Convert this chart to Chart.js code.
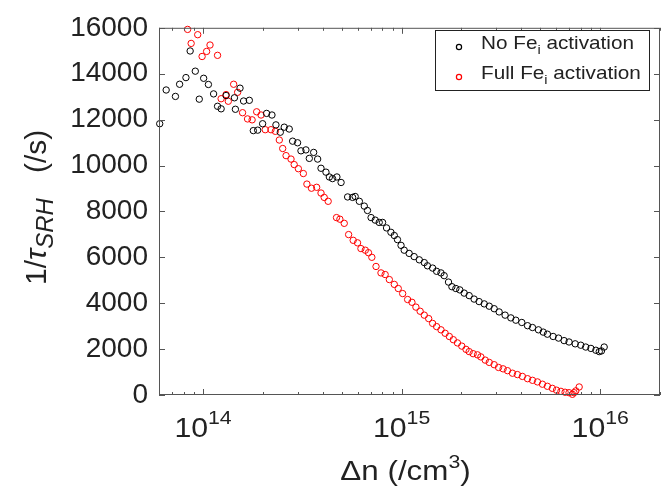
<!DOCTYPE html>
<html>
<head>
<meta charset="utf-8">
<script src="https://cdn.jsdelivr.net/npm/chart.js@4.4.1/dist/chart.umd.min.js"></script>
<style>
  html, body { margin: 0; background: #fff; }
  #wrap { width: 670px; height: 488px; }
</style>
</head>
<body>
<div id="wrap"><canvas id="myChart"></canvas></div>
<script>
// --- data ---
const noFeX = [6.05e13, 6.52e13, 7.26e13, 7.62e13, 8.20e13, 8.61e13, 9.14e13, 9.57e13, 1.007e14, 1.064e14,
  1.130e14, 1.183e14, 1.233e14, 1.306e14, 1.439e14, 1.455e14, 1.535e14, 1.600e14, 1.710e14, 1.791e14,
  1.884e14, 1.995e14, 2.089e14, 2.223e14, 2.328e14, 2.449e14, 2.564e14, 2.716e14, 2.825e14, 2.992e14,
  3.112e14, 3.296e14, 3.428e14, 3.606e14, 3.776e14, 3.926e14, 4.159e14, 4.325e14, 4.487e14, 4.721e14,
  4.955e14, 5.346e14, 5.662e14, 5.834e14, 6.124e14, 6.486e14, 6.730e14, 7.015e14, 7.362e14, 7.709e14,
  8.017e14, 8.395e14, 8.831e14, 9.183e14, 9.528e14, 9.93e14, 1.030e15, 1.091e15, 1.156e15, 1.227e15,
  1.300e15, 1.349e15, 1.432e15, 1.500e15, 1.578e15, 1.637e15, 1.722e15, 1.791e15, 1.875e15, 1.963e15,
  2.065e15, 2.188e15, 2.317e15, 2.455e15, 2.606e15, 2.761e15, 2.924e15, 3.097e15, 3.319e15, 3.548e15,
  3.758e15, 4.027e15, 4.305e15, 4.560e15, 4.887e15, 5.164e15, 5.420e15, 5.794e15, 6.166e15, 6.577e15,
  6.966e15, 7.482e15, 7.980e15, 8.453e15, 8.974e15, 9.506e15, 9.886e15, 1.014e16, 1.047e16];
const noFeY = [11820, 13290, 13010, 13540, 13830, 14990, 14110, 12890, 13800, 13530,
  13120, 12580, 12470, 13050, 12950, 12450, 13370, 12810, 12840, 11520,
  11540, 11820, 12270, 12200, 11770, 11450, 11670, 11590, 11060, 10990,
  10640, 10680, 10310, 10570, 10280, 9880, 9710, 9500, 9430, 9500,
  9260, 8630, 8610, 8650, 8440, 8230, 8040, 7730, 7620, 7520,
  7520, 7280, 7090, 6950, 6770, 6520, 6310, 6170, 6030, 5890,
  5770, 5630, 5530, 5390, 5320, 5200, 4920, 4720, 4640, 4580,
  4440, 4330, 4180, 4070, 3970, 3870, 3760, 3620, 3480, 3360,
  3260, 3160, 3020, 2940, 2840, 2740, 2650, 2550, 2480, 2370,
  2310, 2230, 2170, 2090, 2030, 1950, 1890, 1920, 2090];

const fullFeX = [8.36e13, 8.71e13, 9.40e13, 9.89e13, 1.042e14, 1.084e14, 1.183e14, 1.233e14, 1.306e14, 1.340e14,
  1.426e14, 1.493e14, 1.581e14, 1.675e14, 1.766e14, 1.862e14, 1.959e14, 2.056e14, 2.198e14, 2.312e14,
  2.421e14, 2.518e14, 2.618e14, 2.773e14, 2.877e14, 3.020e14, 3.199e14, 3.334e14, 3.516e14, 3.733e14,
  3.926e14, 4.074e14, 4.266e14, 4.699e14, 4.887e14, 5.140e14, 5.408e14, 5.702e14, 5.998e14, 6.237e14,
  6.561e14, 6.808e14, 7.079e14, 7.430e14, 7.870e14, 8.260e14, 8.670e14, 9.183e14, 9.616e14, 1.012e15,
  1.072e15, 1.127e15, 1.180e15, 1.239e15, 1.300e15, 1.368e15, 1.432e15, 1.500e15, 1.578e15, 1.656e15,
  1.738e15, 1.820e15, 1.910e15, 2.009e15, 2.109e15, 2.188e15, 2.291e15, 2.410e15, 2.506e15, 2.636e15,
  2.761e15, 2.924e15, 3.076e15, 3.243e15, 3.412e15, 3.614e15, 3.828e15, 4.055e15, 4.305e15, 4.560e15,
  4.831e15, 5.117e15, 5.420e15, 5.741e15, 6.026e15, 6.339e15, 6.653e15, 6.966e15, 7.244e15, 7.379e15,
  7.534e15, 7.834e15];
const fullFeY = [15930, 15320, 15700, 14750, 14970, 15250, 14800, 12910, 13090, 12800,
  13540, 13190, 12300, 12030, 11990, 12340, 12200, 11560, 11560, 11490,
  11110, 10740, 10430, 10280, 10040, 9860, 9650, 9190, 9010, 9050,
  8800, 8610, 8440, 7730, 7660, 7480, 6990, 6740, 6630, 6380,
  6310, 6200, 6000, 5600, 5320, 5250, 5030, 4820, 4640, 4420,
  4160, 4040, 3830, 3650, 3480, 3330, 3120, 2980, 2840, 2690,
  2550, 2410, 2270, 2130, 1990, 1890, 1800, 1750, 1660, 1520,
  1420, 1320, 1200, 1140, 1060, 950, 890, 810, 710, 640,
  570, 470, 380, 290, 210, 160, 120, 100, 30, 100,
  180, 350];

const seriesNames = ['No Fe', 'Full Fe'];   // each followed by subscript i + " activation"
const seriesColors = ['#000000', '#ff0000'];
const yTicks = [0, 2000, 4000, 6000, 8000, 10000, 12000, 14000, 16000];
const xTickExps = [14, 15, 16];

const FONT = '"Liberation Sans", Arial, Helvetica, sans-serif';
const SX = 1.12;   // the original figure's text is a bit wide
const INK = '#222';

// draw a row of text pieces (for super/subscripts), centred on cx
function drawParts(ctx, parts, cx, base, sx) {
  let w = 0;
  parts.forEach(p => { ctx.font = p.f; p.w = ctx.measureText(p.t).width * sx; w += p.w; });
  let x = cx - w / 2;
  parts.forEach(p => {
    ctx.font = p.f;
    ctx.save();
    ctx.translate(x, base + (p.dy || 0));
    ctx.scale(sx, 1);
    ctx.fillText(p.t, 0, 0);
    ctx.restore();
    x += p.w;
  });
}

const boxPlugin = {
  id: 'matlabBox',
  afterDraw(chart) {
    const { ctx, chartArea: a, scales: { x, y } } = chart;
    ctx.save();
    ctx.strokeStyle = '#555';
    ctx.lineWidth = 1;
    ctx.strokeRect(a.left + 0.5, a.top + 0.5, a.right - a.left - 1, a.bottom - a.top - 1);

    const seg = (x1, y1, x2, y2) => { ctx.beginPath(); ctx.moveTo(x1, y1); ctx.lineTo(x2, y2); ctx.stroke(); };
    // log ticks, inward, top and bottom
    for (let e = 13; e <= 16; e++) {
      for (let m = 1; m <= 9; m++) {
        const v = m * Math.pow(10, e);
        if (v < x.min || v > x.max) continue;
        const px = Math.round(x.getPixelForValue(v)) + 0.5;
        const len = m === 1 ? 6 : 3;
        seg(px, a.bottom, px, a.bottom - len);
        seg(px, a.top, px, a.top + len);
      }
    }
    // y ticks, inward, left and right
    yTicks.forEach(v => {
      const py = Math.round(y.getPixelForValue(v)) + 0.5;
      seg(a.left, py, a.left + 6, py);
      seg(a.right, py, a.right - 6, py);
    });

    ctx.fillStyle = INK;
    ctx.textAlign = 'left';
    ctx.textBaseline = 'alphabetic';
    // x tick labels 10^n
    xTickExps.forEach(e => {
      const px = x.getPixelForValue(Math.pow(10, e));
      drawParts(ctx, [
        { t: '10', f: '27px ' + FONT },
        { t: String(e), f: '19px ' + FONT, dy: -13 }
      ], px, 437, SX);
    });
    // x title
    drawParts(ctx, [
      { t: '\u0394n (/cm', f: '28px ' + FONT },
      { t: '3', f: '19px ' + FONT, dy: -12 },
      { t: ')', f: '28px ' + FONT }
    ], (a.left + a.right) / 2 - 4, 480, SX);
    // y title, rotated
    ctx.save();
    ctx.translate(0, (a.top + a.bottom) / 2 - 4);
    ctx.rotate(-Math.PI / 2);
    drawParts(ctx, [
      { t: '1/', f: '30px ' + FONT },
      { t: '\u03c4', f: 'italic 30px ' + FONT },
      { t: 'SRH', f: 'italic 24px ' + FONT, dy: 7 },
      { t: '   (/s)', f: '30px ' + FONT }
    ], 0, 46, 1);
    ctx.restore();

    // legend
    const lx = 435.5, ly = 30.5, lw = 214, lh = 60;
    ctx.fillStyle = '#fff';
    ctx.fillRect(lx, ly, lw, lh);
    ctx.strokeStyle = '#222';
    ctx.strokeRect(lx, ly, lw, lh);
    seriesNames.forEach((name, i) => {
      const cy = 47 + i * 30;
      ctx.strokeStyle = seriesColors[i];
      ctx.lineWidth = 1.2;
      ctx.beginPath();
      ctx.arc(459, cy, 2.6, 0, Math.PI * 2);
      ctx.stroke();
      ctx.fillStyle = INK;
      const f = '18.5px ' + FONT;
      let tx = 481;
      const put = (t, font, dy) => {
        ctx.font = font;
        ctx.save(); ctx.translate(tx, cy + 1.5 + dy); ctx.scale(SX, 1); ctx.fillText(t, 0, 0); ctx.restore();
        tx += ctx.measureText(t).width * SX;
      };
      put(name, f, 0);
      put('i', '13px ' + FONT, 5);
      put(' activation', f, 0);
    });
    ctx.restore();
  }
};

const ctx = document.getElementById('myChart').getContext('2d');
new Chart(ctx, {
  type: 'scatter',
  data: {
    datasets: [
      { label: 'No Fe_i activation', data: noFeX.map((v, i) => ({ x: v, y: noFeY[i] })), borderColor: seriesColors[0] },
      { label: 'Full Fe_i activation', data: fullFeX.map((v, i) => ({ x: v, y: fullFeY[i] })), borderColor: seriesColors[1] }
    ].map(d => Object.assign(d, {
      backgroundColor: 'rgba(0,0,0,0)', pointRadius: 3.2, pointBorderWidth: 1, pointHoverRadius: 3.2, clip: false
    }))
  },
  options: {
    responsive: true,
    maintainAspectRatio: false,
    animation: false,
    events: [],
    layout: { padding: { left: 0, right: 10, top: 19, bottom: 0 } },
    plugins: { legend: { display: false }, tooltip: { enabled: false } },
    scales: {
      x: {
        type: 'logarithmic', min: 6e13, max: 2e16,
        grid: { display: false, drawTicks: false }, border: { display: false },
        ticks: { display: false },
        afterFit: s => { s.height = 93; }
      },
      y: {
        min: 0, max: 16000,
        afterBuildTicks: s => { s.ticks = yTicks.map(v => ({ value: v })); },
        grid: { display: false, drawTicks: false }, border: { display: false },
        ticks: { font: { family: FONT, size: 28 }, color: INK, padding: 11, callback: v => String(v) },
        afterFit: s => { s.width = 159; }
      }
    }
  },
  plugins: [boxPlugin]
});
</script>
</body>
</html>
